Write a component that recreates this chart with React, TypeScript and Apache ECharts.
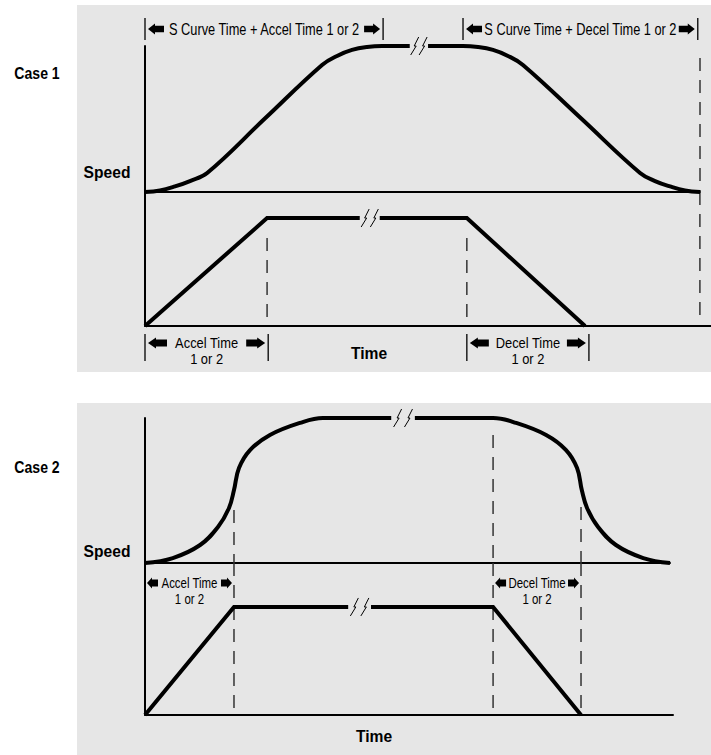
import React, { useEffect, useRef } from "react";
import * as echarts from "echarts";

type Pt = [number, number];

// ---------- Case 1 (time: 0 = start, 100 = end of S curve; speed in % of max) ----------
const case1SCurveAccel: Pt[] = [
  [0, 0], [2.7, 1.0], [5.4, 3.8], [8.1, 7.5], [11.2, 13.0], [21.6, 50.3],
  [31.9, 87.0], [34.6, 93.2], [37.3, 97.3], [40.0, 99.3], [42.7, 100], [47.7, 100],
];
const case1SCurveDecel: Pt[] = [
  [51.0, 100], [57.3, 100], [60.0, 99.3], [62.7, 97.3], [65.4, 93.2], [68.1, 87.0],
  [78.6, 50.3], [89.2, 13.0], [91.9, 7.5], [94.6, 3.8], [97.3, 1.0], [100, 0],
];
const case1RampAccel: Pt[] = [[0, 0], [22.0, 100], [38.7, 100]];
const case1RampDecel: Pt[] = [[42.3, 100], [58.0, 100], [79.3, 0]];
// dashed guides: [time, from, to]
const case1GuidesSpeed: number[][] = [[100, 91.8, 0]];
const case1GuidesRamp: number[][] = [[22.0, 81.5, 0], [58.0, 81.5, 0], [100, 124, 8.3]];
const case1TopSpans = [
  { text: "S Curve Time + Accel Time 1 or 2", from: 0, to: 42.9 },
  { text: "S Curve Time + Decel Time 1 or 2", from: 57.3, to: 99.6 },
];
const case1BottomSpans = [
  { text: "Accel Time", sub: "1 or 2", from: 0, to: 22.2 },
  { text: "Decel Time", sub: "1 or 2", from: 58.0, to: 80.0 },
];

// ---------- Case 2 ----------
const case2SCurveAccel: Pt[] = [
  [0, 0], [5.3, 3.4], [10.5, 12.4], [13.9, 24.8], [16.0, 37.9], [16.95, 50.3],
  [17.9, 65.5], [20.0, 77.9], [23.8, 88.3], [29.5, 96.6], [33.9, 100], [46.9, 100],
];
const case2SCurveDecel: Pt[] = [
  [51.4, 100], [66.3, 100], [70.7, 96.6], [76.4, 88.3], [80.2, 77.9], [82.3, 65.5],
  [83.2, 50.3], [84.2, 37.9], [86.3, 24.8], [89.7, 12.4], [94.9, 3.4], [100, 0],
];
const case2RampAccel: Pt[] = [[0, 0], [16.95, 100], [38.7, 100]];
const case2RampDecel: Pt[] = [[43.05, 100], [66.3, 100], [83.05, 0]];
const case2GuidesSpeed: number[][] = [[16.95, 36.5, 0], [66.3, 88.3, 0], [83.05, 38.6, 0]];
const case2GuidesRamp: number[][] = [[16.95, 140.7, 0], [66.3, 140.7, 0], [83.05, 140.7, 0]];
const case2Spans = [
  { text: "Accel Time", sub: "1 or 2", from: 0, to: 16.95 },
  { text: "Decel Time", sub: "1 or 2", from: 66.3, to: 83.05 },
];

const caseLabels = ["Case 1", "Case 2"];
const speedLabel = "Speed";
const timeLabel = "Time";

const FONT = "'Liberation Sans', Arial, Helvetica, sans-serif";

export default function App() {
  const ref = useRef<HTMLDivElement>(null);

  useEffect(() => {
    document.body.style.margin = "0";
    const chart = echarts.init(ref.current!, undefined, { renderer: "svg" });

    const grids = [
      { left: 145, top: 46, width: 555, height: 146 },
      { left: 145, top: 192, width: 566, height: 134 },
      { left: 145, top: 418, width: 525, height: 145 },
      { left: 145, top: 563, width: 528, height: 152 },
    ];
    const xMax = [100, 102, 100, 100.57];
    const yMax = [100, 124.1, 100, 140.7];

    const axisLine = { show: true, onZero: false, lineStyle: { color: "#000", width: 2 } };
    const xAxis = grids.map((_, i) => ({
      type: "value", gridIndex: i, min: 0, max: xMax[i],
      axisLine, axisTick: { show: false }, axisLabel: { show: false }, splitLine: { show: false },
    }));
    const yAxis = grids.map((_, i) => ({
      type: "value", gridIndex: i, min: 0, max: yMax[i],
      axisLine, axisTick: { show: false }, axisLabel: { show: false }, splitLine: { show: false },
    }));

    const curve = (g: number, data: Pt[], smooth: boolean) => ({
      type: "line", xAxisIndex: g, yAxisIndex: g, data, symbol: "none",
      smooth: smooth ? 0.4 : false,
      lineStyle: { color: "#000", width: 4, cap: "butt", join: "miter" },
      silent: true, z: 4,
    });
    const guide = (g: number, gd: number[]) => ({
      type: "line", xAxisIndex: g, yAxisIndex: g,
      data: [[gd[0], gd[1]], [gd[0], gd[2]]], symbol: "none",
      lineStyle: { color: "#333", width: 1.5, type: [13, 9] },
      silent: true, z: 3,
    });

    const series: any[] = [
      curve(0, case1SCurveAccel, true),
      curve(0, case1SCurveDecel, true),
      curve(1, case1RampAccel, false),
      curve(1, case1RampDecel, false),
      curve(2, case2SCurveAccel, true),
      curve(2, case2SCurveDecel, true),
      curve(3, case2RampAccel, false),
      curve(3, case2RampDecel, false),
      ...case1GuidesSpeed.map((g) => guide(0, g)),
      ...case1GuidesRamp.map((g) => guide(1, g)),
      ...case2GuidesSpeed.map((g) => guide(2, g)),
      ...case2GuidesRamp.map((g) => guide(3, g)),
    ];

    chart.setOption({
      animation: false,
      grid: grids,
      xAxis,
      yAxis,
      series,
    });

    const px = (g: number, t: number, s: number) =>
      chart.convertToPixel({ gridIndex: g } as any, [t, s]) as number[];

    const els: any[] = [];
    els.push({ type: "rect", shape: { x: 77, y: 5, width: 634, height: 367 }, style: { fill: "#e6e6e6" }, z: -10 });
    els.push({ type: "rect", shape: { x: 77, y: 403, width: 634, height: 352 }, style: { fill: "#e6e6e6" }, z: -10 });

    const text = (t: string, x: number, y: number, size: number, bold: boolean, sx: number) => ({
      type: "text", x, y, scaleX: sx, z: 6,
      style: {
        text: t, fontSize: size, fontFamily: FONT, fontWeight: bold ? "bold" : "normal",
        fill: "#000", align: "center", verticalAlign: "middle",
      },
    });
    const arrow = (tip: number, yc: number, dir: number, L: number, hl: number, hh: number, sh: number) => ({
      type: "polygon", z: 6,
      shape: {
        points: [
          [tip, yc], [tip + dir * hl, yc - hh], [tip + dir * hl, yc - sh], [tip + dir * L, yc - sh],
          [tip + dir * L, yc + sh], [tip + dir * hl, yc + sh], [tip + dir * hl, yc + hh],
        ],
      },
      style: { fill: "#000" },
    });
    const bar = (x: number, y1: number, y2: number) => ({
      type: "line", z: 6, shape: { x1: x, y1, x2: x, y2 }, style: { stroke: "#000", lineWidth: 1.3 },
    });
    const brk = (g: number, a: Pt[], b: Pt[]) => {
      const p1 = px(g, a[a.length - 1][0], a[a.length - 1][1]);
      const p2 = px(g, b[0][0], b[0][1]);
      [0.27, 0.73].forEach((f) => {
        const cx = p1[0] + (p2[0] - p1[0]) * f;
        const cy = p1[1];
        els.push({
          type: "polyline", z: 6,
          shape: { points: [[cx + 4, cy - 9], [cx - 0.5, cy], [cx + 1.5, cy], [cx - 4, cy + 9]] },
          style: { stroke: "#000", lineWidth: 1, fill: null },
        });
      });
    };
    brk(0, case1SCurveAccel, case1SCurveDecel);
    brk(1, case1RampAccel, case1RampDecel);
    brk(2, case2SCurveAccel, case2SCurveDecel);
    brk(3, case2RampAccel, case2RampDecel);

    // Case 1 top spans
    const c1Top = px(0, 0, 100)[1] - 17;
    case1TopSpans.forEach((s) => {
      const xl = px(0, s.from, 0)[0];
      const xr = px(0, s.to, 0)[0];
      els.push(bar(xl, c1Top - 11, c1Top + 11), bar(xr, c1Top - 11, c1Top + 11));
      els.push(arrow(xl + 3, c1Top, 1, 16, 7, 5.5, 3.2), arrow(xr - 3, c1Top, -1, 16, 7, 5.5, 3.2));
      els.push(text(s.text, (xl + xr) / 2, c1Top, 16, false, 0.8));
    });
    // Case 1 bottom spans
    const c1Base = px(1, 0, 0)[1];
    case1BottomSpans.forEach((s) => {
      const xl = px(1, s.from, 0)[0];
      const xr = px(1, s.to, 0)[0];
      els.push(bar(xl, c1Base + 8, c1Base + 35), bar(xr, c1Base + 8, c1Base + 35));
      els.push(arrow(xl + 3, c1Base + 17, 1, 19, 8, 5.5, 3.5), arrow(xr - 3, c1Base + 17, -1, 19, 8, 5.5, 3.5));
      els.push(text(s.text, (xl + xr) / 2, c1Base + 17, 15, false, 0.86));
      els.push(text(s.sub, (xl + xr) / 2, c1Base + 33, 15, false, 0.86));
    });
    // Case 2 spans
    const c2Base = px(2, 0, 0)[1];
    case2Spans.forEach((s) => {
      const xl = px(2, s.from, 0)[0];
      const xr = px(2, s.to, 0)[0];
      els.push(arrow(xl + 2, c2Base + 20, 1, 11, 5, 5.5, 3.5), arrow(xr - 2, c2Base + 20, -1, 11, 5, 5.5, 3.5));
      els.push(text(s.text, (xl + xr) / 2, c2Base + 20, 14.5, false, 0.79));
      els.push(text(s.sub, (xl + xr) / 2, c2Base + 36, 14.5, false, 0.79));
    });

    // Labels
    els.push(text(caseLabels[0], 37, 73, 16, true, 0.88));
    els.push(text(caseLabels[1], 37, 467, 16, true, 0.88));
    els.push(text(speedLabel, 107, px(0, 0, 0)[1] - 20, 17, true, 0.92));
    els.push(text(speedLabel, 107, px(2, 0, 0)[1] - 12, 17, true, 0.92));
    els.push(text(timeLabel, 369, c1Base + 27, 17, true, 0.92));
    els.push(text(timeLabel, 374, px(3, 0, 0)[1] + 21, 17, true, 0.92));

    chart.setOption({ graphic: { elements: els } });

    return () => chart.dispose();
  }, []);

  return <div ref={ref} style={{ width: 711, height: 755 }} />;
}
